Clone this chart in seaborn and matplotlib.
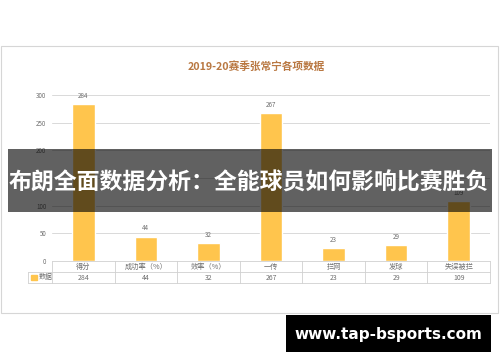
import matplotlib
matplotlib.use("Agg")
import matplotlib.pyplot as plt
import seaborn as sns
from matplotlib.patches import Rectangle
from matplotlib.transforms import blended_transform_factory

sns.set_theme(style="white")
plt.rcParams['font.family'] = ['Noto Sans CJK SC', 'DejaVu Sans']

title = "2019-20赛季张常宁各项数据"
categories = ["得分", "成功率（%）", "效率（%）", "一传", "拦网", "发球", "失误被拦"]
values = [284, 44, 32, 267, 23, 29, 109]
series_name = "数据"
yticks = [0, 50, 100, 150, 200, 250, 300]
banner = "布朗全面数据分析：全能球员如何影响比赛胜负"
watermark = "www.tap-bsports.com"

bar_color = "#FFC54D"
grid_color = "#D9D9D9"
text_gray = "#6E6E6E"

W, H = 500, 362
fig = plt.figure(figsize=(W / 100, H / 100), dpi=100)
fig.patch.set_facecolor("white")

def fx(px):
    return px / W

def fy(py):
    return 1 - py / H

# chart frame
fig.patches.append(Rectangle((fx(1), fy(313)), fx(498) - fx(1), fy(46) - fy(313),
                             transform=fig.transFigure, fill=False,
                             edgecolor="#D6D6D6", linewidth=0.8, zorder=0))

ax = fig.add_axes([fx(52), fy(261), fx(490) - fx(52), fy(95) - fy(261)])
sns.barplot(x=categories, y=values, color=bar_color, width=0.36, ax=ax,
            saturation=1, zorder=3)
ax.set_ylim(0, 300)
ax.set_xlim(-0.5, len(categories) - 0.5)
ax.set_yticks(yticks)
ax.set_yticklabels([str(t) for t in yticks], fontsize=4.5, color=text_gray)
ax.tick_params(axis="y", length=0, pad=4)
ax.set_xticks([])
ax.set_xlabel("")
ax.set_ylabel("")
for s in ax.spines.values():
    s.set_visible(False)
ax.grid(axis="y", color=grid_color, linewidth=0.7, zorder=0)
ax.set_axisbelow(True)

for c in ax.containers:
    ax.bar_label(c, labels=[str(v) for v in values], fontsize=4.5,
                 color=text_gray, padding=3, clip_on=False)

# data table below axis
tr = blended_transform_factory(ax.transData, ax.transAxes)
rh = 11 / 166
n = len(categories)
lc = "#D0D0D0"
lw = 0.6
ax.plot([-0.5, n - 0.5], [0, 0], transform=tr, color=lc, lw=lw, clip_on=False)
left_x = -0.5 - 24 / 62.6
ax.plot([left_x, n - 0.5], [-rh, -rh], transform=tr, color=lc, lw=lw, clip_on=False)
ax.plot([left_x, n - 0.5], [-2 * rh, -2 * rh], transform=tr, color=lc, lw=lw, clip_on=False)
for i in range(n + 1):
    ax.plot([i - 0.5, i - 0.5], [0, -2 * rh], transform=tr, color=lc, lw=lw, clip_on=False)
ax.plot([left_x, left_x], [-rh, -2 * rh], transform=tr, color=lc, lw=lw, clip_on=False)
for i, (cat, v) in enumerate(zip(categories, values)):
    ax.text(i, -rh / 2, cat, transform=tr, ha="center", va="center",
            fontsize=5.2, color=text_gray)
    ax.text(i, -1.5 * rh, str(v), transform=tr, ha="center", va="center",
            fontsize=5, color=text_gray)
ax.add_patch(Rectangle((left_x + 0.05, -1.5 * rh - 0.018), 0.09, 0.036,
                       transform=tr, color=bar_color, clip_on=False))
ax.text(left_x + 0.17, -1.5 * rh, series_name, transform=tr, ha="left",
        va="center", fontsize=5, color=text_gray)

# title
fig.text(fx(256), fy(66), title, ha="center", va="center", fontsize=7.7,
         fontweight="bold", color="#B97842")

# banner overlay
fig.patches.append(Rectangle((fx(8), fy(212)), fx(492) - fx(8), fy(149) - fy(212),
                             transform=fig.transFigure, facecolor="black",
                             alpha=0.62, edgecolor="none", zorder=5))
fig.text(fx(249), fy(183), banner, ha="center", va="center", fontsize=16.5,
         fontweight="bold", color="white", zorder=6)

# watermark
fig.patches.append(Rectangle((fx(286), fy(352)), fx(491) - fx(286), fy(315) - fy(352),
                             transform=fig.transFigure, facecolor="black",
                             edgecolor="none", zorder=5))
fig.text(fx(388), fy(334), watermark, ha="center", va="center", fontsize=11,
         fontweight="bold", color="white", family=["DejaVu Sans"], zorder=6)

fig.savefig("out.png", dpi=100)
